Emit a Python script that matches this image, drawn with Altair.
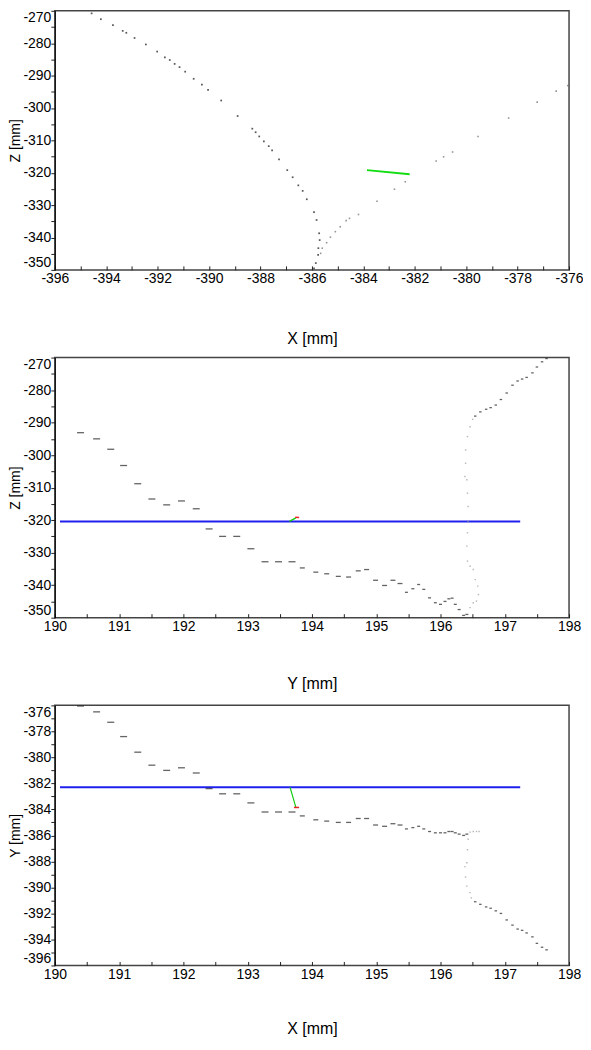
import altair as alt
import pandas as pd

FONT = "Liberation Sans"

# ---------------- Panel 1 : X-Z ----------------
xz_a_x = [-394.57, -394.21, -393.74, -393.36, -393.22, -392.90, -392.46, -392.02, -391.72, -391.53,
          -391.34, -391.15, -390.93, -390.60, -390.28, -390.04, -389.53, -388.89, -388.32, -388.19,
          -388.05, -387.87, -387.68, -387.55, -387.28, -386.96, -386.75, -386.53, -386.36, -386.20,
          -385.92, -385.82, -385.72, -385.70, -385.75, -385.76, -385.85, -385.92]
xz_a_z = [-270.8, -272.6, -274.4, -276.2, -276.8, -278.4, -280.4, -282.6, -284.4, -285.2,
          -286.4, -287.4, -288.8, -291.0, -292.8, -294.4, -297.7, -302.5, -306.4, -307.5,
          -308.8, -310.3, -311.8, -313.1, -315.9, -319.2, -321.4, -323.9, -325.6, -328.2,
          -332.2, -334.6, -338.7, -340.8, -343.3, -345.4, -347.9, -349.5]
xz_b_x = [-385.66, -385.60, -385.43, -385.28, -385.09, -384.90, -384.67, -384.54, -384.19, -383.47,
          -382.79, -382.37, -381.17, -380.88, -380.53, -379.54, -378.35, -377.24, -376.50, -376.05]
xz_b_z = [-344.9, -343.3, -341.6, -339.9, -338.2, -336.7, -334.8, -334.1, -332.9, -328.8,
          -325.1, -322.8, -316.4, -315.1, -313.6, -308.8, -303.1, -298.2, -294.8, -293.1]
xz_green_x = [-383.86, -382.20]
xz_green_z = [-319.2, -320.5]

# ---------------- Panels 2 and 3 : shared horizontal coordinate ----------------
h_wide = [190.40, 190.65, 190.87, 191.07, 191.29, 191.51, 191.74, 191.97, 192.20, 192.40,
          192.61, 192.83, 193.05, 193.27, 193.48, 193.69]
z_wide = [-293.1, -295.0, -298.2, -303.2, -308.8, -313.5, -315.3, -314.1, -316.5, -322.7,
          -325.0, -325.0, -328.8, -332.8, -332.8, -332.8]
v_wide = [-376.05, -376.5, -377.3, -378.4, -379.6, -380.6, -381.0, -380.8, -381.2, -382.4,
          -382.8, -382.8, -383.5, -384.2, -384.2, -384.2]

h_med = [193.85, 194.06, 194.23, 194.41, 194.57, 194.72, 194.85, 194.99, 195.13, 195.26, 195.37]
z_med = [-334.7, -336.0, -336.5, -337.3, -337.5, -335.6, -335.2, -338.5, -340.1, -338.5, -339.5]
v_med = [-384.5, -384.8, -384.9, -385.0, -385.0, -384.7, -384.7, -385.2, -385.3, -385.1, -385.2]

h_small = [195.47, 195.57, 195.66, 195.74, 195.83, 195.92, 196.00, 196.07, 196.13, 196.18,
           196.23, 196.29, 196.36, 196.41]
z_small = [-342.2, -341.1, -339.8, -341.3, -343.9, -345.4, -345.9, -345.0, -344.2, -344.0,
           -345.9, -347.5, -349.3, -349.0]
v_small = [-385.5, -385.4, -385.3, -385.5, -385.7, -385.8, -385.8, -385.8, -385.7, -385.7,
           -385.8, -385.9, -386.0, -385.9]

# faint near-vertical section
h_vert2 = [196.46, 196.51, 196.56, 196.59, 196.58, 196.54, 196.51, 196.46, 196.42, 196.41,
           196.42, 196.43, 196.43, 196.42, 196.41, 196.38, 196.39, 196.39, 196.42, 196.46, 196.50]
z_vert2 = [-346.9, -345.4, -344.9, -342.9, -340.3, -338.3, -335.2, -334.2, -332.6, -328.0,
           -323.9, -320.4, -315.8, -311.7, -307.6, -306.6, -302.5, -298.4, -294.3, -291.3, -289.0]
h_vert3 = [196.46, 196.51, 196.56, 196.60, 196.43, 196.42, 196.41, 196.38, 196.39, 196.41,
           196.46, 196.48]
v_vert3 = [-385.75, -385.7, -385.7, -385.7, -386.3, -387.1, -388.1, -388.4, -389.2, -389.9,
           -390.4, -390.8]

# last dashes at the right
h_end = [196.54, 196.62, 196.71, 196.78, 196.86, 196.94, 197.03, 197.12, 197.20, 197.27,
         197.34, 197.43, 197.50, 197.58, 197.65]
z_end = [-288.0, -286.7, -285.9, -285.4, -284.6, -282.9, -280.9, -278.5, -277.2, -276.6,
         -276.1, -274.7, -272.9, -271.3, -270.3]
v_end = [-391.1, -391.3, -391.5, -391.6, -391.8, -392.0, -392.5, -392.9, -393.2, -393.3,
         -393.5, -393.8, -394.3, -394.6, -394.8]

blue_h = [190.08, 197.24]
blue_z = [-320.4, -320.4]
blue_v = [-382.3, -382.3]
green2_h = [193.65, 193.75]
green2_z = [-320.4, -319.3]
red2_h = [193.74, 193.80]
red2_z = [-319.1, -319.2]
green3_h = [193.66, 193.75]
green3_v = [-382.3, -383.85]
red3_h = [193.72, 193.80]
red3_v = [-383.85, -383.85]

PLOT_W = 516


def df(xs, ys):
    return pd.DataFrame({"x": xs, "y": ys})


def frange(a, b, step):
    n = int(round((b - a) / step))
    return [round(a + i * step, 4) for i in range(n + 1)]


def lab(mod):
    return (f"abs(datum.value % {mod}) < 1e-6 ? "
            f"(datum.value < 0 ? '-' : '') + format(abs(datum.value), 'd') : ''")


def panel(layer_specs, xdom, ydom, xstep, ystep, xlab_mod, ylab_mod, xtitle, ytitle, tpad, height):
    xs = alt.Scale(domain=xdom, nice=False, zero=False)
    ys = alt.Scale(domain=ydom, nice=False, zero=False)
    xaxis = alt.Axis(
        values=frange(xdom[0], xdom[1], xstep), labelExpr=lab(xlab_mod),
        title=xtitle, titlePadding=tpad, offset=-4, tickSize=4, domain=False,
        labelPadding=2, grid=False, tickColor="#222", labelColor="#000",
        labelFont=FONT, labelFontSize=14, titleFont=FONT, titleFontSize=16,
        titleFontWeight="normal", titleColor="#000", labelOverlap=False, labelFlush=False,
    )
    yaxis = alt.Axis(
        values=frange(ydom[0], ydom[1], ystep), labelExpr=lab(ylab_mod),
        title=ytitle, titlePadding=0, tickSize=4, domain=True, domainColor="#000",
        domainWidth=1, labelPadding=0, grid=False, tickColor="#222", labelColor="#000",
        labelFont=FONT, labelFontSize=14, titleFont=FONT, titleFontSize=14,
        titleFontWeight="normal", titleColor="#000", labelFlush=True, labelOverlap=False,
    )
    layers = []
    for data, mark in layer_specs:
        layers.append(
            mark.encode(
                x=alt.X("x:Q", scale=xs, axis=xaxis),
                y=alt.Y("y:Q", scale=ys, axis=yaxis),
            )
        )
    return alt.layer(*layers).properties(width=PLOT_W, height=height)


def L(xs, ys, mark_method, **kw):
    d = df(xs, ys)
    return (d, getattr(alt.Chart(d), mark_method)(**kw))


p1 = panel(
    [
        L(xz_a_x, xz_a_z, "mark_square", size=3, color="#111"),
        L(xz_b_x, xz_b_z, "mark_square", size=2.5, color="#666"),
        L(xz_green_x, xz_green_z, "mark_line", color="#11dd11", strokeWidth=2),
    ],
    [-396, -376], [-350, -270], 1, 5, 2, 10, "X [mm]", "Z [mm]", 45, 260,
)

p2 = panel(
    [
        L(blue_h, blue_z, "mark_line", color="#2020ee", strokeWidth=2),
        L(h_wide, z_wide, "mark_tick", orient="horizontal", size=7, thickness=1.3, color="#222"),
        L(h_med, z_med, "mark_tick", orient="horizontal", size=5, thickness=1.3, color="#222"),
        L(h_small, z_small, "mark_tick", orient="horizontal", size=3, thickness=1.3, color="#222"),
        L(h_vert2, z_vert2, "mark_square", size=2, color="#999"),
        L(h_end, z_end, "mark_tick", orient="horizontal", size=2.5, thickness=1.3, color="#222"),
        L(green2_h, green2_z, "mark_line", color="#11cc11", strokeWidth=1.5),
        L(red2_h, red2_z, "mark_line", color="#ee2222", strokeWidth=1.5),
    ],
    [190, 198], [-350, -270], 0.5, 5, 1, 10, "Y [mm]", "Z [mm]", 42, 261,
)

p3 = panel(
    [
        L(blue_h, blue_v, "mark_line", color="#2020ee", strokeWidth=2),
        L(h_wide, v_wide, "mark_tick", orient="horizontal", size=7, thickness=1.3, color="#222"),
        L(h_med, v_med, "mark_tick", orient="horizontal", size=5, thickness=1.3, color="#222"),
        L(h_small, v_small, "mark_tick", orient="horizontal", size=3, thickness=1.3, color="#222"),
        L(h_vert3, v_vert3, "mark_square", size=2, color="#999"),
        L(h_end, v_end, "mark_tick", orient="horizontal", size=2.5, thickness=1.3, color="#222"),
        L(green3_h, green3_v, "mark_line", color="#11cc11", strokeWidth=1.2),
        L(red3_h, red3_v, "mark_line", color="#ee2222", strokeWidth=1.5),
    ],
    [190, 198], [-396, -376], 0.5, 1, 1, 2, "X [mm]", "Y [mm]", 39, 261,
)

chart = alt.vconcat(
    alt.vconcat(p1, p2, spacing=8),
    p3,
    spacing=11,
).properties(
    padding={"left": 0, "top": -1, "right": -1, "bottom": 0},
    background="white",
).configure_view(
    stroke="#444", strokeWidth=1.5,
)

chart.save("out.html", embed_options={"renderer": "svg", "actions": False})
